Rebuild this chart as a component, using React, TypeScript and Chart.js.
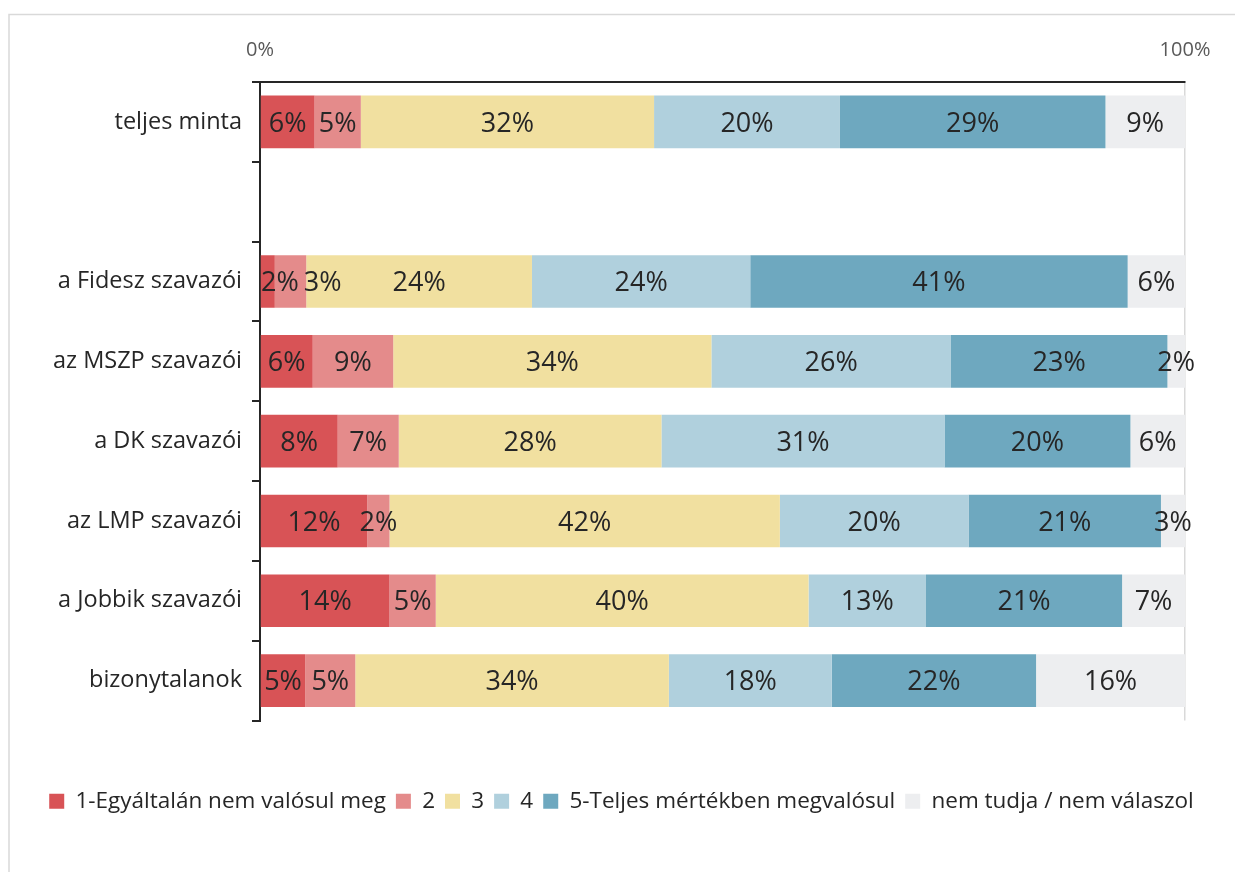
import React, { useEffect, useRef } from "react";
import { Chart, registerables } from "chart.js";

Chart.register(...registerables);

const categories = [
  "teljes minta",
  "",
  "a Fidesz szavazói",
  "az MSZP szavazói",
  "a DK szavazói",
  "az LMP szavazói",
  "a Jobbik szavazói",
  "bizonytalanok",
];

const seriesNames = [
  "1-Egyáltalán nem valósul meg",
  "2",
  "3",
  "4",
  "5-Teljes mértékben megvalósul",
  "nem tudja / nem válaszol",
];

const answer1 = [5.9, null, 1.6, 5.7, 8.4, 11.6, 14.0, 4.9];
const answer2 = [5.0, null, 3.4, 8.7, 6.6, 2.4, 5.0, 5.4];
const answer3 = [31.7, null, 24.4, 34.4, 28.4, 42.2, 40.3, 33.9];
const answer4 = [20.1, null, 23.6, 25.9, 30.6, 20.4, 12.7, 17.6];
const answer5 = [28.7, null, 40.8, 23.4, 20.1, 20.8, 21.2, 22.1];
const noAnswer = [8.6, null, 6.2, 1.9, 5.9, 2.6, 6.8, 16.1];

const seriesColors = ["#D85356", "#E48B8B", "#F1E0A0", "#B0D0DD", "#6EA8BF", "#EDEEF0"];
const xTickValues = [0, 100];

const FONT = "'Open Sans'";
const TEXT = "#262626";

const framePlugin = {
  id: "frame",
  beforeDraw(chart: any) {
    const { ctx, width, height } = chart;
    ctx.save();
    ctx.strokeStyle = "#d9d9d9";
    ctx.lineWidth = 1.5;
    ctx.beginPath();
    ctx.moveTo(1, height);
    ctx.lineTo(1, 6.5);
    ctx.lineTo(width, 6.5);
    ctx.stroke();
    ctx.restore();
  },
};

const barLabelPlugin = {
  id: "barLabels",
  afterDatasetsDraw(chart: any) {
    const ctx = chart.ctx;
    ctx.save();
    ctx.font = `27px ${FONT}`;
    ctx.fillStyle = TEXT;
    ctx.textBaseline = "middle";
    ctx.textAlign = "left";
    const n = chart.data.labels.length;
    for (let i = 0; i < n; i++) {
      let prevRight = -Infinity;
      chart.data.datasets.forEach((ds: any, di: number) => {
        const v = ds.data[i];
        if (v == null) return;
        const el = chart.getDatasetMeta(di).data[i];
        const { x, base, y } = el.getProps(["x", "base", "y"], true);
        const text = Math.round(v) + "%";
        const w = ctx.measureText(text).width;
        let left = (x + base) / 2 - w / 2;
        left = Math.max(left, chart.chartArea.left + 1, prevRight + 5);
        ctx.fillText(text, left, y + 2);
        prevRight = left + w;
      });
    }
    ctx.restore();
  },
};

export default function App() {
  const ref = useRef<HTMLCanvasElement | null>(null);

  useEffect(() => {
    if (!ref.current) return;
    Chart.defaults.font.family = FONT;
    const seriesData = [answer1, answer2, answer3, answer4, answer5, noAnswer];
    const chart = new Chart(ref.current, {
      type: "bar",
      data: {
        labels: categories,
        datasets: seriesNames.map((name, i) => ({
          label: name,
          data: seriesData[i],
          backgroundColor: seriesColors[i],
          borderWidth: 0,
          barPercentage: 0.66,
          categoryPercentage: 1,
        })),
      },
      options: {
        indexAxis: "y",
        responsive: false,
        animation: false,
        layout: { padding: { left: 0, right: 0, top: 14, bottom: 49.5 } },
        plugins: {
          legend: {
            position: "bottom",
            align: "center",
            title: { display: true, text: "", padding: { top: 47.5, bottom: 0 }, font: { size: 10 } },
            labels: {
              boxWidth: 15,
              boxHeight: 15,
              padding: 10,
              color: TEXT,
              font: { size: 22.5, family: FONT },
            },
          },
          tooltip: { enabled: false },
        },
        scales: {
          x: {
            position: "top",
            stacked: true,
            min: 0,
            max: 100,
            afterBuildTicks: (s: any) => {
              s.ticks = xTickValues.map((v) => ({ value: v }));
            },
            afterFit: (s: any) => {
              s.height = 60;
            },
            ticks: {
              callback: (v: any) => v + "%",
              padding: 20,
              color: "#595959",
              font: { size: 20, family: FONT },
              maxRotation: 0,
            },
            grid: {
              drawTicks: false,
              color: (c: any) => (c.tick && c.tick.value === 100 ? "#d9d9d9" : "rgba(0,0,0,0)"),
              lineWidth: 1.5,
            },
            border: { color: TEXT, width: 2 },
          },
          y: {
            stacked: true,
            afterFit: (s: any) => {
              s.width = 252;
            },
            ticks: {
              padding: 10,
              color: TEXT,
              font: { size: 23.5, family: FONT },
              autoSkip: false,
            },
            grid: {
              drawOnChartArea: false,
              drawTicks: true,
              tickLength: 8,
              color: TEXT,
              lineWidth: 2,
              offset: true,
            },
            border: { color: TEXT, width: 2 },
          },
          rightSpace: {
            type: "linear",
            axis: "y",
            position: "right",
            grid: { display: false },
            ticks: { display: false },
            border: { display: false },
            afterFit: (s: any) => {
              s.width = 50;
            },
          },
        },
      },
      plugins: [framePlugin, barLabelPlugin],
    } as any);
    return () => chart.destroy();
  }, []);

  return (
    <div>
      <canvas ref={ref} width={1227} height={864} style={{ display: "block" }} />
    </div>
  );
}
